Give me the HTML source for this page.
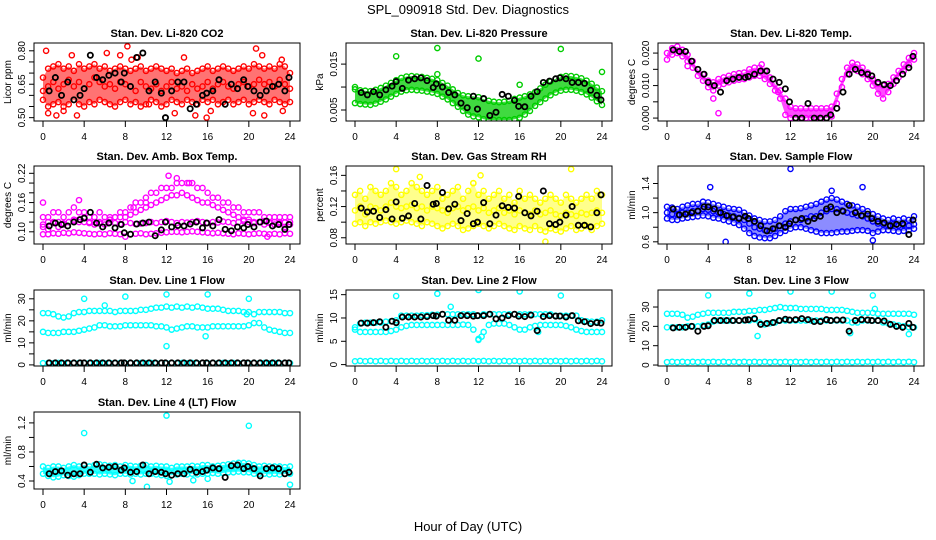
<!DOCTYPE html>
<html><head><meta charset="utf-8"><style>
html,body{margin:0;padding:0;background:#fff;}
svg{display:block;font-family:"Liberation Sans",sans-serif;}
</style></head><body>
<svg id="chart" width="936" height="540" viewBox="0 0 936 540" xmlns="http://www.w3.org/2000/svg">
<rect x="0" y="0" width="936" height="540" fill="#fff"/>
<text x="468" y="14" text-anchor="middle" font-size="13">SPL_090918  Std. Dev. Diagnostics</text>
<text x="468" y="531" text-anchor="middle" font-size="13">Hour of Day (UTC)</text>
</svg>
<script>
const hours = [0,4,8,12,16,20,24];
const blackX = [0.6,1.2,1.8,2.4,3.0,3.6,4.0,4.6,5.2,5.8,6.4,7.0,7.6,7.9,8.5,9.1,9.7,10.3,10.9,11.5,11.9,12.5,13.1,13.7,14.3,14.9,15.5,15.9,16.5,17.1,17.7,18.3,18.9,19.5,19.9,20.5,21.1,21.7,22.3,22.9,23.5,23.9];
const titles = ["Stan. Dev. Li-820 CO2","Stan. Dev. Li-820 Pressure","Stan. Dev. Li-820 Temp.","Stan. Dev. Amb. Box Temp.","Stan. Dev. Gas Stream RH","Stan. Dev. Sample Flow","Stan. Dev. Line 1 Flow","Stan. Dev. Line 2 Flow","Stan. Dev. Line 3 Flow","Stan. Dev. Line 4 (LT) Flow"];
const yTitles = ["Licor ppm","kPa","degrees C","degrees C","percent","ml/min","ml/min","ml/min","ml/min","ml/min"];
const colors = ["#ff0000","#00cd00","#ff00ff","#ff00ff","#ffff00","#0000ff","#00ffff","#00ffff","#00ffff","#00ffff"];
const yMin = [0.485,0.0026,-0.0009,0.075,0.072,0.57,-0.5,-0.3,-0.5,0.29];
const yMax = [0.835,0.0196,0.0231,0.235,0.172,1.64,34,16,38.8,1.35];
const yTicks = [[0.5,0.55,0.6,0.65,0.7,0.75,0.8],[0.005,0.01,0.015],[0,0.005,0.01,0.015,0.02],[0.1,0.12,0.14,0.16,0.18,0.2,0.22],[0.08,0.1,0.12,0.14,0.16],[0.6,0.8,1.0,1.2,1.4],[0,5,10,15,20,25,30],[0,5,10,15],[0,10,20,30],[0.4,0.6,0.8,1.0,1.2]];
const yLabels = [["0.50","","","0.65","","","0.80"],["0.005","","0.015"],["0.000","","0.010","","0.020"],["0.10","","","0.16","","","0.22"],["0.08","","0.12","","0.16"],["0.6","","1.0","","1.4"],["0","","10","","20","","30"],["0","5","10","15"],["0","10","20","30"],["0.4","","0.8","","1.2"]];

// colored series (values every 0.5 h from 0 to 24)
const co2Hi = [0.68,0.72,0.73,0.74,0.72,0.73,0.71,0.74,0.72,0.73,0.74,0.72,0.73,0.71,0.72,0.73,0.72,0.71,0.72,0.73,0.71,0.72,0.73,0.72,0.71,0.72,0.70,0.71,0.72,0.70,0.71,0.72,0.73,0.71,0.72,0.73,0.72,0.71,0.72,0.73,0.72,0.74,0.73,0.72,0.73,0.72,0.74,0.73,0.70];
const co2Mid = [0.62,0.64,0.66,0.63,0.65,0.67,0.64,0.66,0.63,0.65,0.68,0.66,0.64,0.65,0.63,0.66,0.65,0.64,0.62,0.66,0.64,0.63,0.65,0.62,0.64,0.66,0.63,0.64,0.62,0.65,0.63,0.64,0.66,0.63,0.65,0.66,0.64,0.63,0.65,0.66,0.64,0.65,0.67,0.65,0.66,0.64,0.67,0.65,0.63];
const co2Lo = [0.58,0.55,0.56,0.57,0.55,0.56,0.58,0.56,0.55,0.57,0.56,0.58,0.57,0.56,0.55,0.57,0.58,0.56,0.57,0.55,0.56,0.58,0.57,0.55,0.56,0.58,0.57,0.56,0.58,0.57,0.56,0.58,0.57,0.58,0.56,0.57,0.58,0.56,0.57,0.58,0.56,0.57,0.58,0.57,0.56,0.58,0.57,0.56,0.57];
const presHi = [0.0095,0.0093,0.0092,0.0091,0.0094,0.0098,0.0103,0.0109,0.0115,0.0120,0.0123,0.0124,0.0123,0.0122,0.0120,0.0118,0.0115,0.0109,0.0103,0.0095,0.0087,0.0082,0.0080,0.0080,0.0078,0.0074,0.0070,0.0068,0.0067,0.0068,0.0070,0.0074,0.0077,0.0080,0.0084,0.0089,0.0097,0.0105,0.0112,0.0118,0.0122,0.0124,0.0124,0.0122,0.0119,0.0114,0.0107,0.0099,0.0091];
const presLo = [0.0065,0.0063,0.0062,0.0061,0.0064,0.0068,0.0073,0.0079,0.0085,0.0090,0.0093,0.0094,0.0093,0.0092,0.0090,0.0088,0.0085,0.0079,0.0073,0.0065,0.0057,0.0048,0.0040,0.0036,0.0034,0.0030,0.0028,0.0028,0.0028,0.0028,0.0028,0.0030,0.0033,0.0040,0.0048,0.0059,0.0067,0.0075,0.0082,0.0088,0.0092,0.0094,0.0094,0.0092,0.0089,0.0084,0.0077,0.0069,0.0061];
const tempHi = [0.0200,0.0215,0.0220,0.0210,0.0195,0.0175,0.0150,0.0135,0.0115,0.0110,0.0120,0.0125,0.0130,0.0135,0.0138,0.0140,0.0150,0.0155,0.0155,0.0145,0.0125,0.0105,0.0085,0.0060,0.0035,0.0030,0.0030,0.0030,0.0030,0.0030,0.0030,0.0030,0.0035,0.0075,0.0120,0.0155,0.0170,0.0165,0.0155,0.0140,0.0120,0.0105,0.0100,0.0105,0.0125,0.0145,0.0165,0.0185,0.0200];
const tempLo = [0.0180,0.0195,0.0200,0.0190,0.0175,0.0155,0.0130,0.0115,0.0095,0.0085,0.0100,0.0105,0.0110,0.0115,0.0118,0.0120,0.0125,0.0130,0.0130,0.0120,0.0105,0.0085,0.0060,0.0010,0.0000,0.0000,0.0000,0.0000,0.0000,0.0000,0.0000,0.0000,0.0005,0.0045,0.0095,0.0135,0.0150,0.0145,0.0135,0.0120,0.0100,0.0075,0.0060,0.0080,0.0105,0.0125,0.0145,0.0165,0.0180];
const ambHi = [0.13,0.13,0.14,0.14,0.13,0.14,0.15,0.14,0.14,0.13,0.13,0.14,0.13,0.13,0.13,0.14,0.14,0.15,0.16,0.16,0.17,0.18,0.18,0.19,0.19,0.19,0.20,0.20,0.20,0.20,0.19,0.19,0.18,0.17,0.17,0.16,0.16,0.15,0.15,0.14,0.14,0.14,0.14,0.13,0.13,0.13,0.13,0.13,0.13];
const ambHi2 = [0.11,0.105,0.12,0.11,0.115,0.12,0.125,0.12,0.13,0.12,0.115,0.12,0.12,0.125,0.13,0.13,0.13,0.135,0.14,0.145,0.15,0.155,0.16,0.165,0.17,0.175,0.175,0.18,0.175,0.17,0.165,0.16,0.16,0.155,0.15,0.145,0.14,0.135,0.13,0.125,0.125,0.12,0.12,0.115,0.12,0.115,0.12,0.11,0.115];
const ambMid = [0.115,0.12,0.118,0.12,0.117,0.12,0.122,0.125,0.12,0.118,0.12,0.117,0.115,0.12,0.118,0.116,0.12,0.118,0.116,0.117,0.118,0.12,0.118,0.12,0.122,0.12,0.118,0.12,0.119,0.12,0.122,0.12,0.118,0.12,0.119,0.121,0.12,0.118,0.12,0.122,0.12,0.118,0.12,0.122,0.118,0.12,0.117,0.119,0.12];
const ambLo = [0.095,0.095,0.097,0.096,0.098,0.097,0.099,0.098,0.097,0.096,0.095,0.096,0.095,0.097,0.096,0.095,0.090,0.095,0.096,0.097,0.095,0.096,0.097,0.098,0.099,0.100,0.100,0.099,0.100,0.101,0.100,0.099,0.098,0.097,0.098,0.097,0.096,0.095,0.097,0.096,0.095,0.096,0.097,0.096,0.095,0.096,0.095,0.097,0.096];
const rhHi = [0.135,0.14,0.13,0.145,0.14,0.135,0.14,0.15,0.145,0.135,0.14,0.15,0.145,0.14,0.135,0.14,0.145,0.13,0.135,0.14,0.145,0.13,0.14,0.15,0.135,0.14,0.13,0.135,0.14,0.13,0.135,0.125,0.14,0.13,0.135,0.13,0.125,0.13,0.135,0.13,0.125,0.135,0.13,0.125,0.13,0.135,0.13,0.14,0.135];
const rhMid = [0.115,0.12,0.11,0.12,0.118,0.115,0.12,0.125,0.12,0.118,0.12,0.122,0.118,0.12,0.115,0.12,0.118,0.115,0.112,0.118,0.12,0.115,0.118,0.12,0.115,0.118,0.112,0.115,0.118,0.112,0.115,0.11,0.115,0.112,0.11,0.115,0.11,0.112,0.115,0.11,0.108,0.112,0.11,0.108,0.112,0.11,0.112,0.115,0.112];
const rhLo = [0.098,0.1,0.095,0.1,0.098,0.1,0.102,0.1,0.098,0.1,0.102,0.1,0.098,0.095,0.1,0.098,0.095,0.092,0.095,0.098,0.095,0.09,0.092,0.095,0.098,0.095,0.092,0.095,0.098,0.095,0.092,0.09,0.095,0.092,0.09,0.095,0.09,0.088,0.092,0.09,0.088,0.092,0.095,0.09,0.092,0.095,0.09,0.095,0.098];
const flowHi = [1.08,1.07,1.05,1.08,1.1,1.12,1.12,1.15,1.14,1.12,1.1,1.08,1.06,1.05,1.04,1.0,0.96,0.92,0.9,0.88,0.88,0.9,0.95,1.02,1.05,1.05,1.06,1.08,1.1,1.12,1.15,1.18,1.2,1.18,1.15,1.12,1.1,1.08,1.05,1.02,0.98,0.95,0.92,0.9,0.92,0.9,0.92,0.9,0.95];
const flowMid = [1.0,0.98,0.97,1.0,1.0,1.02,1.03,1.05,1.04,1.02,1.0,0.98,0.96,0.95,0.93,0.9,0.85,0.8,0.78,0.76,0.75,0.78,0.82,0.85,0.88,0.9,0.9,0.92,0.95,0.95,1.0,1.02,1.05,1.05,1.03,1.0,0.98,0.96,0.95,0.92,0.88,0.85,0.84,0.82,0.84,0.82,0.83,0.82,0.84];
const flowLo = [0.92,0.9,0.9,0.92,0.93,0.94,0.95,0.96,0.95,0.93,0.92,0.9,0.88,0.86,0.83,0.78,0.72,0.68,0.66,0.65,0.65,0.68,0.72,0.75,0.78,0.8,0.8,0.78,0.76,0.74,0.72,0.72,0.72,0.73,0.74,0.74,0.75,0.76,0.76,0.75,0.72,0.74,0.76,0.76,0.75,0.74,0.75,0.76,0.78];
const l1Top = [23.5,23.5,23,22,21.5,22,23.5,24,24,24.5,24.5,24.5,24.5,24.5,24,24.5,24.5,24.5,24.5,25,25,25.5,26,26,26.5,26,26.5,26,26.5,26,26.5,26,25.5,25.5,25.5,25,24.5,24.5,24.5,24,24,23,19,17,16,15.5,15,14.5,14.5];
const l1Mid = [15,14.5,14.5,14.5,15,15,15,15.5,16,16.5,17,18,18,17.5,17.5,17.5,18,18,18,18,18,18,17.5,17.5,17,16,16.5,17,17.5,17.5,17,17,17,17.5,17.5,17.5,17.5,17.5,17.5,17.5,18,19,24,24,24,24,24,23.5,23.5];
const l1Zero = [0.8,0.9,0.8,0.9,0.8,0.9,0.8,0.9,0.8,0.9,0.8,0.9,0.8,0.9,0.8,0.9,0.8,0.9,0.8,0.9,0.8,0.9,0.8,0.9,0.8,0.9,0.8,0.9,0.8,0.9,0.8,0.9,0.8,0.9,0.8,0.9,0.8,0.9,0.8,0.9,0.8,0.9,0.8,0.9,0.8,0.9,0.8,0.9,0.8];
const l2Top = [8,8.8,9,9,9,9,9.2,9.3,9.5,10.5,10.5,10.5,10.5,10.6,10.6,10.7,10.7,10.8,10.8,10.8,10.8,10.8,10.8,10.8,10.5,10.8,10.8,10.8,10.8,10.8,10.8,10.8,10.8,10.8,10.8,10.8,10.8,10.8,10.8,10.5,10.5,10.5,10.5,10.5,9.5,9.3,9.2,9.2,9.5];
const l2Mid = [7.5,7,7,7,7,7,7,7.2,7.5,8,8.3,8.5,8.5,8.5,8.5,8.5,8.5,8.5,8.5,8.5,8.5,8.6,8.5,7.5,5.5,7,8.5,8.8,8.8,8.8,8.5,8,7.5,7.5,8,8.3,8.5,8.5,8.5,8.5,8.5,8.3,8.0,7.5,7.2,7,7,7,7];
const l2Zero = [0.7,0.8,0.7,0.8,0.7,0.8,0.7,0.8,0.7,0.8,0.7,0.8,0.7,0.8,0.7,0.8,0.7,0.8,0.7,0.8,0.7,0.8,0.7,0.8,0.7,0.8,0.7,0.8,0.7,0.8,0.7,0.8,0.7,0.8,0.7,0.8,0.7,0.8,0.7,0.8,0.7,0.8,0.7,0.8,0.7,0.8,0.7,0.8,0.7];
const l3Top = [26.5,26.5,26.5,26,24.5,25,26,26.5,27,27,27,27,27,27.5,27.5,27.5,28,28,28.5,28.5,29,29.5,30,29.5,29.5,29.5,29,29,29,29,29,28.5,28.5,28.5,28.5,28,27.5,27,27,27,27,26.5,26.5,26.5,26.5,26.5,26.5,26.5,26];
const l3Mid = [19.5,19.5,19.5,19.5,20,20,20,20.5,21,22.5,23,23,23,23,23,23,23,23.5,22,21,21.5,22,23,23,23,23,23,23,23,23,23,23,23,23,23,23,22,22,23,23,23,23,22,21.5,21,20.5,20,19.5,19.5];
const l3Zero = [1.5,1.7,1.5,1.7,1.5,1.7,1.5,1.7,1.5,1.7,1.5,1.7,1.5,1.7,1.5,1.7,1.5,1.7,1.5,1.7,1.5,1.7,1.5,1.7,1.5,1.7,1.5,1.7,1.5,1.7,1.5,1.7,1.5,1.7,1.5,1.7,1.5,1.7,1.5,1.7,1.5,1.7,1.5,1.7,1.5,1.7,1.5,1.7,1.5];
const l4Hi = [0.6,0.58,0.6,0.6,0.58,0.6,0.62,0.6,0.62,0.6,0.62,0.63,0.62,0.61,0.62,0.6,0.62,0.61,0.6,0.61,0.62,0.6,0.61,0.6,0.6,0.58,0.6,0.6,0.6,0.61,0.6,0.62,0.62,0.6,0.61,0.62,0.63,0.64,0.65,0.65,0.64,0.62,0.6,0.61,0.6,0.6,0.6,0.59,0.6];
const l4Lo = [0.5,0.47,0.45,0.46,0.48,0.47,0.46,0.48,0.5,0.5,0.5,0.49,0.5,0.49,0.48,0.5,0.5,0.49,0.5,0.49,0.5,0.5,0.49,0.48,0.47,0.48,0.49,0.5,0.49,0.5,0.49,0.5,0.5,0.51,0.5,0.51,0.52,0.52,0.53,0.52,0.52,0.5,0.5,0.5,0.49,0.5,0.49,0.5,0.5];

const outX = [[0.3,0.5,1.3,2,2.8,3.3,6.2,7.5,8.2,7.9,8.6,9.2,10.3,12.8,14.8,13.7,15.9,16.3,20.7,20.4,21.3,21.5,23.3,23.9,23.2],[4,8,12,20,24,0,16,8],[5,4.5,2,9.2,10.8],[0,3.5,12.2,13,14.2,21.8,8.8,10],[4,6.3,12.2,21,18.5,11.5],[12,4.2,19,5.7,16,20],[4,8,12,16,20,12,15.8,6,19.8],[4,8,12,16,20,9.3,12,12.3,17.8],[4,8,12,16,20,8.8,23.5,17.8,20.2],[4,12,20,10.1,8.7,12.3,24,14.6,16]];
const outY = [[0.80,0.52,0.51,0.53,0.78,0.51,0.79,0.78,0.82,0.47,0.76,0.77,0.56,0.52,0.51,0.77,0.50,0.53,0.81,0.52,0.78,0.51,0.53,0.47,0.76],[0.0167,0.0185,0.0162,0.0183,0.0133,0.0100,0.0105,0.0128],[0.0015,0.006,0.016,0.0165,0.008],[0.16,0.165,0.215,0.21,0.2,0.09,0.15,0.16],[0.168,0.158,0.16,0.168,0.075,0.15],[1.6,1.35,1.35,0.6,1.3,0.62],[30,31,32,32,30,8.5,13,27,23],[14.7,15.2,16,15.7,14.8,12.4,5.3,6,7],[36,37,38,38,36,15,16,16.5,29],[1.06,1.3,1.16,0.32,0.4,0.39,0.35,0.41,0.43]];

const blackY = [
[0.62,0.68,0.60,0.66,0.58,0.60,0.63,0.78,0.68,0.67,0.69,0.70,0.66,0.70,0.64,0.77,0.79,0.62,0.66,0.61,0.50,0.62,0.66,0.66,0.54,0.56,0.60,0.61,0.62,0.67,0.56,0.65,0.63,0.67,0.64,0.62,0.60,0.62,0.64,0.65,0.62,0.68],
[0.0088,0.0083,0.0090,0.0083,0.0094,0.0102,0.0112,0.0097,0.0115,0.0118,0.0120,0.0114,0.0099,0.0107,0.0100,0.0088,0.0083,0.0065,0.0055,0.0080,0.0052,0.0075,0.0038,0.0045,0.0084,0.0080,0.0071,0.0058,0.0057,0.0080,0.0090,0.0110,0.0113,0.0118,0.0120,0.0118,0.0110,0.0110,0.0108,0.0093,0.0082,0.0072],
[0.0210,0.0205,0.0205,0.0175,0.0150,0.0135,0.0110,0.0100,0.0080,0.0115,0.0120,0.0125,0.0125,0.0128,0.0135,0.0145,0.0145,0.0120,0.0110,0.0090,0.0050,0.0000,0.0000,0.0045,0.0000,0.0000,0.0000,0.0010,0.0030,0.0080,0.0135,0.0150,0.0140,0.0135,0.0130,0.0110,0.0103,0.0100,0.0115,0.0135,0.0155,0.0190],
[0.112,0.118,0.115,0.112,0.120,0.125,0.128,0.140,0.118,0.110,0.118,0.108,0.115,0.098,0.095,0.116,0.118,0.120,0.092,0.104,0.120,0.110,0.113,0.112,0.116,0.120,0.108,0.118,0.112,0.125,0.105,0.102,0.110,0.108,0.115,0.110,0.120,0.122,0.112,0.115,0.105,0.115],
[0.118,0.113,0.114,0.106,0.116,0.104,0.126,0.105,0.108,0.124,0.104,0.147,0.123,0.124,0.138,0.117,0.123,0.102,0.111,0.098,0.100,0.125,0.098,0.109,0.121,0.119,0.118,0.133,0.112,0.108,0.114,0.140,0.098,0.097,0.100,0.109,0.120,0.096,0.096,0.094,0.112,0.135],
[1.05,0.97,0.98,1.0,1.02,1.08,1.08,1.05,1.0,0.96,0.94,0.92,0.95,0.92,0.88,0.82,0.75,0.78,0.82,0.80,0.85,0.90,0.92,0.88,0.92,0.95,1.05,1.08,1.0,1.02,1.1,1.0,0.96,0.98,0.92,0.88,0.86,0.82,0.84,0.85,0.70,0.90],
[0.9,0.9,0.9,0.9,0.9,0.9,0.9,0.9,0.9,0.9,0.9,0.9,0.9,0.9,0.9,0.9,0.9,0.9,0.9,0.9,0.9,0.9,0.9,0.9,0.9,0.9,0.9,0.9,0.9,0.9,0.9,0.9,0.9,0.9,0.9,0.9,0.9,0.9,0.9,0.9,0.9,0.9],
[8.9,8.9,9.0,9.2,8.0,9.3,9.0,10.2,10.2,10.2,10.2,10.3,10.5,10.4,10.8,9.5,9.5,10.5,10.5,10.4,10.5,10.5,10.8,9.8,10.0,10.5,10.8,10.4,10.3,10.6,7.3,10.3,10.5,10.4,10.4,10.2,10.5,9.4,9.2,8.8,9.0,8.9],
[19.2,19.5,19.5,20.0,17.5,20.0,20.3,23.0,23.0,23.0,23.0,23.0,23.3,23.5,24.0,21.0,21.5,22.0,23.0,23.7,23.3,23.5,24.0,23.5,22.5,22.5,23.5,23.0,23.3,23.3,17.5,23.0,23.5,23.3,23.0,23.0,22.8,21.0,20.0,19.5,21.5,19.5],
[0.5,0.53,0.54,0.48,0.50,0.50,0.62,0.52,0.63,0.58,0.59,0.60,0.55,0.58,0.52,0.53,0.62,0.50,0.53,0.52,0.50,0.48,0.50,0.50,0.56,0.52,0.53,0.55,0.58,0.57,0.45,0.61,0.62,0.57,0.60,0.57,0.47,0.57,0.58,0.57,0.50,0.52]
];

const seriesSets = [[co2Hi,co2Mid,co2Lo],[presHi,presLo],[tempHi,tempLo],[ambHi,ambHi2,ambMid,ambLo],[rhHi,rhMid,rhLo],[flowHi,flowMid,flowLo],[l1Top,l1Mid,l1Zero],[l2Top,l2Mid,l2Zero],[l3Top,l3Mid,l3Zero],[l4Hi,l4Lo]];
const bandPairs = [[0,2],[0,1],[0,1],null,[0,2],[0,2],null,null,null,[0,1]];
const bandOpacity = [0.55,0.75,0.7,0,0.45,0.45,0,0,0,0.8];

const NS = "http://www.w3.org/2000/svg";
const svg = document.getElementById("chart");
const rowTop = [43,166,290,412], rowBot = [121,244,366,489];
function mk(tag, attrs, parent){ const e=document.createElementNS(NS,tag); for(const k in attrs) e.setAttribute(k,attrs[k]); parent.appendChild(e); return e; }

for (let p=0; p<10; p++){
  const col=p%3, row=Math.floor(p/3);
  const bx0=34+312*col, bx1=300+312*col, top=rowTop[row], bot=rowBot[row];
  const xs = h => 43+312*col + h*(247/24);
  const ys = v => bot - (v-yMin[p])/(yMax[p]-yMin[p])*(bot-top);
  const g = mk("g",{},svg);
  
  
  const clip = mk("clipPath",{id:"c"+p},g);
  mk("rect",{x:bx0,y:top,width:bx1-bx0,height:bot-top},clip);
  const t = mk("text",{x:(bx0+bx1)/2,y:top-6,"text-anchor":"middle","font-size":"11","font-weight":"bold"},g);
  t.textContent = titles[p];
  
  
  const marks = mk("g",{"clip-path":"url(#c"+p+")"},g);
  
  
  const sets = seriesSets[p];
  const bp = bandPairs[p];
  if (bp){
    const a=sets[bp[0]], b=sets[bp[1]];
    let d="";
    a.forEach((v,i)=>{ d+=(i?"L":"M")+xs(i*0.5).toFixed(1)+","+ys(v).toFixed(1); });
    for(let i=b.length-1;i>=0;i--){ d+="L"+xs(i*0.5).toFixed(1)+","+ys(b[i]).toFixed(1); }
    const band = mk("path",{d:d+"Z",fill:colors[p],opacity:bandOpacity[p]},marks);
    
    
  }
  sets.forEach(arr=>{
    arr.forEach((v,i)=>{
      const c = mk("circle",{cx:xs(i*0.5),cy:ys(v),r:2.6,fill:"none",stroke:colors[p],"stroke-width":1.4},marks);
      
      
    });
  });
  outX[p].forEach((h,i)=>{
    const c = mk("circle",{cx:xs(h),cy:ys(outY[p][i]),r:2.6,fill:"none",stroke:colors[p],"stroke-width":1.4},marks);
    
    
  });
  blackY[p].forEach((v,i)=>{
    const c = mk("circle",{cx:xs(blackX[i]),cy:ys(v),r:2.6,fill:"none",stroke:"#000","stroke-width":1.8},marks);
    
    
  });
  const box = mk("rect",{x:bx0,y:top,width:bx1-bx0,height:bot-top,fill:"none",stroke:"#000","stroke-width":1},g);
  
  
  // x axis
  const xa = mk("g",{},g);
  
  
  mk("line",{x1:xs(0),x2:xs(24),y1:bot,y2:bot,stroke:"#000"},xa);
  hours.forEach(h=>{
    mk("line",{x1:xs(h),x2:xs(h),y1:bot,y2:bot+6,stroke:"#000"},xa);
    const tl = mk("text",{x:xs(h),y:bot+19,"text-anchor":"middle","font-size":"10"},xa);
    tl.textContent = h;
    
    
  });
  // y axis
  const ya = mk("g",{},g);
  
  
  yTicks[p].forEach((v,i)=>{
    const y=ys(v);
    mk("line",{x1:bx0-5,x2:bx0,y1:y,y2:y,stroke:"#000"},ya);
    if (yLabels[p][i]){
      const tl = mk("text",{x:bx0-9,y:y,"text-anchor":"middle","font-size":"10",transform:"rotate(-90 "+(bx0-9)+" "+y+")"},ya);
      tl.textContent = yLabels[p][i];
      
      
    }
  });
  const yt = mk("text",{x:bx0-23,y:(top+bot)/2,"text-anchor":"middle","font-size":"10",transform:"rotate(-90 "+(bx0-23)+" "+((top+bot)/2)+")"},g);
  yt.textContent = yTitles[p];
  
  
}
</script>
</body></html>
